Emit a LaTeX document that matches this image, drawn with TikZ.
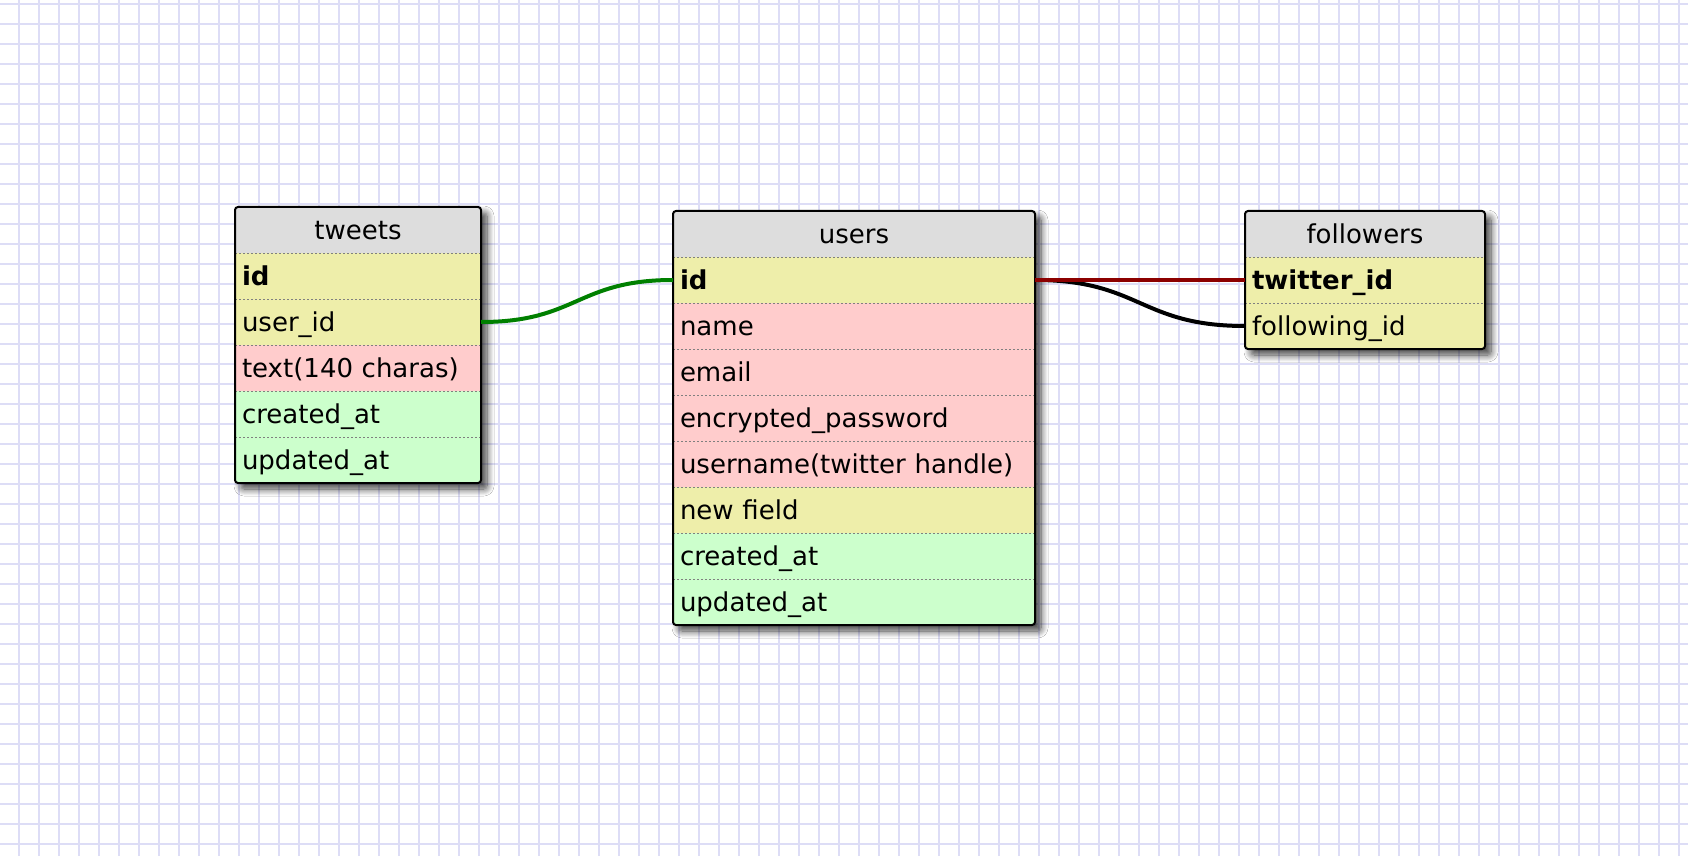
\documentclass[tikz,border=0pt]{standalone}
\usepackage{fontspec}
\setmainfont{DejaVu Sans}
\usetikzlibrary{positioning}
\usetikzlibrary{backgrounds}
\usetikzlibrary{shadows.blur}
\definecolor{gridcol}{RGB}{221,221,246}
\definecolor{headcol}{RGB}{221,221,221}
\definecolor{numcol}{RGB}{238,238,170}
\definecolor{charcol}{RGB}{255,204,204}
\definecolor{datecol}{RGB}{204,255,204}
\definecolor{fkred}{RGB}{140,0,0}
\definecolor{fkgreen}{RGB}{0,128,0}
\tikzset{row/.style = {minimum height = 23pt, inner xsep = 3.5pt, inner ysep = 0, outer sep = 0,
                       text height = 12pt, text depth = 2.5pt, align = left,
                       font = \fontsize{13}{15}\selectfont}}
\tikzset{head/.style = {row, fill = headcol, align = center}}
\tikzset{numrow/.style = {row, fill = numcol}}
\tikzset{charrow/.style = {row, fill = charcol}}
\tikzset{daterow/.style = {row, fill = datecol}}
\tikzset{sep/.style = {gray, line width = 0.5pt, dash pattern = on 1pt off 1pt}}
\tikzset{frame/.style = {line width = 1pt, rounded corners = 1.5pt}}
\tikzset{shade/.style = {fill = white, rounded corners = 1.5pt,
                         blur shadow = {shadow xshift = 3pt, shadow yshift = -3pt,
                                        shadow blur radius = 3.5pt, shadow blur steps = 10,
                                        shadow opacity = 75}}}
\tikzset{gridline/.style = {gridcol, line width = 1pt}}
\tikzset{link/.style = {line width = 2pt}}

\begin{document}
\begin{tikzpicture}[x = 0.5pt, y = -0.5pt]
  \useasboundingbox (0, 0) rectangle (1688, 856);
  % tweets
  \begin{scope}[every node/.append style = {text width = 116pt}]
    \node [head, anchor = north west] (tw) at (235, 207) {tweets};
    \node [numrow, below = 0pt of tw] (tw-id) {\bfseries id};
    \node [numrow, below = 0pt of tw-id] (tw-uid) {user\_id};
    \node [charrow, below = 0pt of tw-uid] (tw-text) {text(140 charas)};
    \node [daterow, below = 0pt of tw-text] (tw-cre) {created\_at};
    \node [daterow, below = 0pt of tw-cre] (tw-upd) {updated\_at};
  \end{scope}
  % users
  \begin{scope}[every node/.append style = {text width = 174pt}]
    \node [head, anchor = north west] (us) at (673, 211) {users};
    \node [numrow, below = 0pt of us] (us-id) {\bfseries id};
    \node [charrow, below = 0pt of us-id] (us-name) {name};
    \node [charrow, below = 0pt of us-name] (us-mail) {email};
    \node [charrow, below = 0pt of us-mail] (us-pw) {encrypted\_password};
    \node [charrow, below = 0pt of us-pw] (us-user) {username(twitter handle)};
    \node [numrow, below = 0pt of us-user] (us-new) {new field};
    \node [daterow, below = 0pt of us-new] (us-cre) {created\_at};
    \node [daterow, below = 0pt of us-cre] (us-upd) {updated\_at};
  \end{scope}
  % followers
  \begin{scope}[every node/.append style = {text width = 113pt}]
    \node [head, anchor = north west] (fo) at (1245, 211) {followers};
    \node [numrow, below = 0pt of fo] (fo-tid) {\bfseries twitter\_id};
    \node [numrow, below = 0pt of fo-tid] (fo-fid) {following\_id};
  \end{scope}
  \foreach \r in {tw-id, tw-uid, tw-text, tw-cre, tw-upd,
                  us-id, us-name, us-mail, us-pw, us-user, us-new, us-cre, us-upd,
                  fo-tid, fo-fid}
    \draw [sep] (\r.north west) -- (\r.north east);
  \draw [frame] (tw.north west) rectangle (tw-upd.south east);
  \draw [frame] (us.north west) rectangle (us-upd.south east);
  \draw [frame] (fo.north west) rectangle (fo-fid.south east);
  % links
  \draw [link, fkgreen] (tw-uid.east) .. controls +(96, 0) and +(-96, 0) .. (us-id.west);
  \draw [link, black] (us-id.east) .. controls +(105, 0) and +(-105, 0) .. (fo-fid.west);
  \draw [link, fkred] (us-id.east) -- (fo-tid.west);
  \begin{scope}[on background layer]
    \fill [white] (0, 0) rectangle (1688, 856);
    \foreach \x in {19, 39, ..., 1679} \draw [gridline] (\x, 0) -- (\x, 856);
    \foreach \y in {4, 24, ..., 844} \draw [gridline] (0, \y) -- (1688, \y);
    \path [shade] (tw.north west) rectangle (tw-upd.south east);
    \path [shade] (us.north west) rectangle (us-upd.south east);
    \path [shade] (fo.north west) rectangle (fo-fid.south east);
  \end{scope}
\end{tikzpicture}
\end{document}
